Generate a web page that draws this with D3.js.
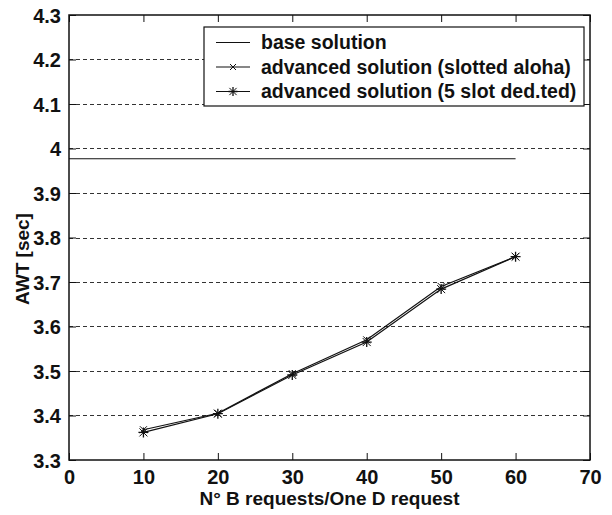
<!DOCTYPE html>
<html>
<head>
<meta charset="utf-8">
<script src="https://cdn.jsdelivr.net/npm/d3@7"></script>
<style>
  body { margin: 0; background: #fff; }
  svg text { font-family: "Liberation Sans", Arial, sans-serif; font-weight: bold; fill: #111; }
</style>
</head>
<body>
<div id="chart"></div>
<script>
// data
const requests = [10, 20, 30, 40, 50, 60];
const baseSolution = 3.977;
const slottedAloha = [3.368, 3.405, 3.494, 3.570, 3.690, 3.757];
const fiveSlotDedicated = [3.362, 3.404, 3.491, 3.565, 3.684, 3.757];
const xTicks = [0, 10, 20, 30, 40, 50, 60, 70];
const yTicks = [3.3, 3.4, 3.5, 3.6, 3.7, 3.8, 3.9, 4, 4.1, 4.2, 4.3];
const legendLabels = [
  'base solution',
  'advanced solution (slotted aloha)',
  'advanced solution (5 slot ded.ted)'
];

const W = 612, H = 515;
const margin = { top: 15, right: 22, bottom: 55, left: 69 };
const width = W - margin.left - margin.right;
const height = H - margin.top - margin.bottom;

const svg = d3.select('#chart').append('svg')
  .attr('width', W)
  .attr('height', H)
  .append('g')
  .attr('transform', `translate(${margin.left}, ${margin.top})`);

const x = d3.scaleLinear().domain([0, 70]).range([0, width]);
const y = d3.scaleLinear().domain([3.3, 4.3]).range([height, 0]);

// dashed horizontal grid
svg.append('g')
  .selectAll('line')
  .data(yTicks.filter(d => d > 3.3 && d < 4.3))
  .join('line')
  .attr('x1', 0)
  .attr('x2', width)
  .attr('y1', d => Math.round(y(d)) + 0.5)
  .attr('y2', d => Math.round(y(d)) + 0.5)
  .attr('stroke', '#333')
  .attr('stroke-dasharray', '4,3');

// axes with inward ticks on all four sides
const fmt = d => d3.format('~g')(d);
const axBottom = svg.append('g')
  .attr('transform', `translate(0, ${height})`)
  .call(d3.axisBottom(x).tickValues(xTicks).tickSizeInner(-7).tickSizeOuter(0).tickPadding(7).tickFormat(fmt));
const axTop = svg.append('g')
  .call(d3.axisTop(x).tickValues(xTicks).tickSizeInner(-7).tickSizeOuter(0).tickFormat(''));
const axLeft = svg.append('g')
  .call(d3.axisLeft(y).tickValues(yTicks).tickSizeInner(-7).tickSizeOuter(0).tickPadding(8).tickFormat(fmt));
const axRight = svg.append('g')
  .attr('transform', `translate(${width}, 0)`)
  .call(d3.axisRight(y).tickValues(yTicks).tickSizeInner(-7).tickSizeOuter(0).tickFormat(''));

[axBottom, axTop, axLeft, axRight].forEach(a => {
  a.select('.domain').remove();
  a.selectAll('line').attr('stroke', '#111');
  a.selectAll('text').style('font-size', '20px').attr('fill', '#111');
});
axBottom.selectAll('text').attr('dy', '0.85em');
axLeft.selectAll('text').attr('dy', '0.36em');

svg.append('rect')
  .attr('x', 0).attr('y', 0)
  .attr('width', width).attr('height', height)
  .attr('fill', 'none')
  .attr('stroke', '#111')
  .attr('stroke-width', 1.5);

// markers
function xMark(g, cx, cy, r) {
  g.append('path')
    .attr('d', `M${cx - r},${cy - r}L${cx + r},${cy + r}M${cx - r},${cy + r}L${cx + r},${cy - r}`)
    .attr('stroke', '#111').attr('stroke-width', 1);
}
function starMark(g, cx, cy, r) {
  xMark(g, cx, cy, r * 0.8);
  g.append('path')
    .attr('d', `M${cx - r},${cy}L${cx + r},${cy}M${cx},${cy - r}L${cx},${cy + r}`)
    .attr('stroke', '#111').attr('stroke-width', 1.3);
}

const line = d3.line()
  .x(d => x(d[0]))
  .y(d => y(d[1]));

// base solution
svg.append('path')
  .datum([[0, baseSolution], [60, baseSolution]])
  .attr('d', line)
  .attr('fill', 'none')
  .attr('stroke', '#111')
  .attr('stroke-width', 1.2);

const series = [
  { values: slottedAloha, marker: xMark, r: 3.5 },
  { values: fiveSlotDedicated, marker: starMark, r: 5 }
];
series.forEach(s => {
  const pts = requests.map((r, i) => [r, s.values[i]]);
  svg.append('path')
    .datum(pts)
    .attr('d', line)
    .attr('fill', 'none')
    .attr('stroke', '#111')
    .attr('stroke-width', 1.2);
  const g = svg.append('g');
  pts.forEach(p => s.marker(g, x(p[0]), y(p[1]), s.r));
});

// legend
const lg = svg.append('g').attr('transform', `translate(${204 - margin.left}, ${27 - margin.top})`);
lg.append('rect')
  .attr('width', 380).attr('height', 79)
  .attr('fill', '#fff')
  .attr('stroke', '#111')
  .attr('stroke-width', 1.2);
legendLabels.forEach((label, i) => {
  const cy = 15.5 + i * 24.5;
  lg.append('line')
    .attr('x1', 12).attr('x2', 46)
    .attr('y1', cy).attr('y2', cy)
    .attr('stroke', '#111').attr('stroke-width', 1.2);
  if (i === 1) xMark(lg, 29, cy, 3);
  if (i === 2) starMark(lg, 29, cy, 4.5);
  lg.append('text')
    .attr('x', 57)
    .attr('y', cy)
    .attr('dy', '0.35em')
    .style('font-size', '19.5px')
    .text(label);
});

// axis titles
svg.append('text')
  .attr('x', width / 2)
  .attr('y', height + 45)
  .attr('text-anchor', 'middle')
  .style('font-size', '19px')
  .text('N° B requests/One D request');

svg.append('text')
  .attr('transform', `translate(${29 - margin.left}, ${259 - margin.top}) rotate(-90)`)
  .attr('text-anchor', 'middle')
  .style('font-size', '19px')
  .text('AWT [sec]');
</script>
</body>
</html>
